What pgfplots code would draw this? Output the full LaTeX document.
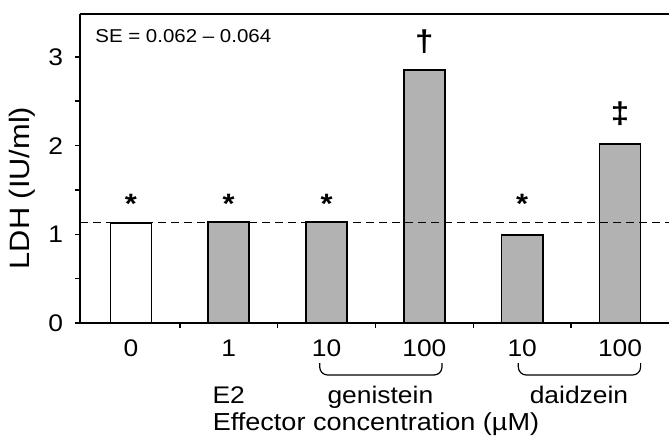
\documentclass[border=0pt]{standalone}
\usepackage{fontspec}
\setmainfont[FakeStretch=1.1]{Liberation Sans}
\usepackage{pgfplots}
\pgfplotsset{compat=1.18}
\definecolor{bargray}{RGB}{178,178,178}

\begin{document}
\begin{tikzpicture}
\begin{axis}[
  scale only axis,
  width=294.5pt, height=154.5pt,
  xmin=-0.52, xmax=5.5,
  ymin=0, ymax=3.484,
  axis x line*=box, axis y line*=left,
  axis line style={line width=0.9pt},
  xtick pos=bottom, ytick pos=left,
  tick align=outside,
  xtick={0,1,2,3,4,5},
  xticklabels={0,1,10,100,10,100},
  major x tick style={draw=none},
  minor xtick={0.5,1.5,2.5,3.5,4.5},
  ytick={0,1,2,3},
  minor ytick={0.5,1.5,2.5},
  major tick length=2.5pt, minor tick length=2.5pt,
  every tick/.style={black, line width=0.8pt},
  font=\fontsize{12}{14}\selectfont,
  /pgf/number format/assume math mode=true,
  yticklabel style={xshift=-2.5pt},
  xticklabel style={yshift=-2.5pt},
  ylabel={LDH (IU/ml)},
  ylabel style={at={(rel axis cs:-0.0985,0.437)}, anchor=center, font=\fontsize{14}{16}\selectfont},
  bar width=0.42,
  clip=false,
]
\addplot[ybar, fill=white, draw=black, line width=0.8pt] coordinates {(0,1.13)};
\addplot[ybar, fill=bargray, draw=black, line width=0.8pt] coordinates {
  (1,1.14) (2,1.14) (3,2.85) (4,0.99) (5,2.02)};
\addplot[black, line width=0.7pt, dash pattern=on 4pt off 2.5pt] coordinates {(-0.52,1.13) (5.5,1.13)};

\node[anchor=base west, inner sep=0pt, font=\fontsize{9.3}{11}\selectfont] at ([xshift=7.5pt,yshift=-14pt]rel axis cs:0,1) {SE = 0.062 -- 0.064};

\node[anchor=base, font=\fontsize{14}{16}\selectfont\bfseries] at (axis cs:0,1.23) {*};
\node[anchor=base, font=\fontsize{14}{16}\selectfont\bfseries] at (axis cs:1,1.23) {*};
\node[anchor=base, font=\fontsize{14}{16}\selectfont\bfseries] at (axis cs:2,1.23) {*};
\node[anchor=base, font=\fontsize{14}{16}\selectfont\bfseries] at (axis cs:4,1.23) {*};
\node[font=\fontsize{15}{17}\selectfont\bfseries] at (axis cs:3,3.17) {†};
\node[font=\fontsize{15}{17}\selectfont\bfseries] at (axis cs:5,2.36) {‡};

\draw[line width=0.6pt, rounded corners=4pt] ([yshift=-20pt]axis cs:1.93,0) -- ([yshift=-26pt]axis cs:1.93,0) -- ([yshift=-26pt]axis cs:3.18,0) -- ([yshift=-20pt]axis cs:3.18,0);
\draw[line width=0.6pt, rounded corners=4pt] ([yshift=-20pt]axis cs:3.96,0) -- ([yshift=-26pt]axis cs:3.96,0) -- ([yshift=-26pt]axis cs:5.21,0) -- ([yshift=-20pt]axis cs:5.21,0);

\node[anchor=base] at ([yshift=-40pt]axis cs:1,0) {E2};
\node[anchor=base] at ([yshift=-40pt]axis cs:2.55,0) {genistein};
\node[anchor=base] at ([yshift=-40pt]axis cs:4.58,0) {daidzein};
\node[anchor=base, font=\fontsize{12.3}{14}\selectfont] at ([yshift=-53.5pt]axis cs:2.505,0) {Effector concentration (µM)};
\end{axis}
\pgfresetboundingbox
\path[use as bounding box] (-40pt,-56pt) rectangle (294.5pt,161.5pt);
\end{tikzpicture}
\end{document}
